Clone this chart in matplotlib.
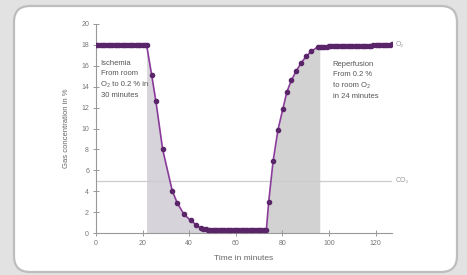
import matplotlib
matplotlib.use("Agg")
import matplotlib.pyplot as plt
from matplotlib.patches import FancyBboxPatch
import numpy as np

plt.rcParams['font.family'] = ['Liberation Sans', 'DejaVu Sans']

# O2 concentration over time (minutes, %)
time_min = [0, 1, 2, 3, 4, 5, 6, 7, 8, 9, 10, 11, 12, 13, 14, 15, 16, 17, 18, 19, 20, 21, 21.7,
            23.9, 25.7, 28.6, 32.7, 34.8, 37.7, 40.6, 43.1,
            45, 46, 47, 48, 49, 50, 51, 52, 53, 54, 55, 56, 57, 58, 59, 60, 61, 62, 63, 64,
            65, 66, 67, 68, 69, 70, 71, 72, 73.1,
            74.1, 76.0, 78.1, 80.2, 81.9, 83.8, 85.9, 88.1, 90.2, 92.4, 95.2,
            96, 97, 98, 99, 100, 101, 102, 103, 104, 105, 106, 107, 108, 109, 110, 111,
            112, 113, 114, 115, 116, 117, 118, 119, 120, 121, 122, 123, 124, 125, 126, 127]
o2_pct = [18.0, 18.0, 18.0, 18.0, 18.0, 18.0, 18.0, 18.0, 18.0, 18.0, 18.0, 18.0, 18.0, 18.0,
          18.0, 18.0, 18.0, 18.0, 18.0, 18.0, 18.0, 18.0, 18.0,
          15.1, 12.6, 8.0, 4.05, 2.9, 1.8, 1.2, 0.77,
          0.45, 0.4, 0.35, 0.3, 0.3, 0.3, 0.3, 0.3, 0.3, 0.3, 0.3, 0.3, 0.3, 0.3, 0.3, 0.3,
          0.3, 0.3, 0.3, 0.3, 0.3, 0.3, 0.3, 0.3, 0.3, 0.3, 0.3, 0.3, 0.3,
          3.0, 6.9, 9.9, 11.9, 13.5, 14.6, 15.5, 16.3, 16.9, 17.4, 17.8,
          17.8, 17.8, 17.8, 17.8, 17.85, 17.85, 17.85, 17.85, 17.85, 17.85, 17.85, 17.85,
          17.9, 17.9, 17.9, 17.9, 17.9, 17.9, 17.9, 17.9, 17.9, 17.9, 17.9, 17.95, 17.95,
          17.95, 17.95, 17.95, 17.95, 18.0, 18.0, 18.05]
co2_level = 5
ischemia_span = (21.7, 52)
reperfusion_span = (73.1, 96)
x_ticks = [0, 20, 40, 60, 80, 100, 120]
y_ticks = [0, 2, 4, 6, 8, 10, 12, 14, 16, 18, 20]

fig = plt.figure(figsize=(4.67, 2.75), dpi=100)
fig.patch.set_facecolor('#e2e2e2')

# rounded white panel
bg = fig.add_axes([0, 0, 1, 1], zorder=-1)
bg.set_xlim(0, 467)
bg.set_ylim(0, 275)
bg.axis('off')
bg.add_patch(FancyBboxPatch((14, 3), 443, 266, boxstyle="round,pad=0,rounding_size=16",
                            facecolor='white', edgecolor='#bdbdbd', linewidth=1.6))

ax = fig.add_axes([96 / 467, 42 / 275, 296 / 467, 209 / 275])
ax.set_facecolor('none')

t = np.array(time_min)
y = np.array(o2_pct)
m1 = (t >= ischemia_span[0]) & (t <= ischemia_span[1])
m2 = (t >= reperfusion_span[0]) & (t <= reperfusion_span[1])
ax.fill_between(t, 0, y, where=m1, color='#d6d4da', linewidth=0, zorder=1)
ax.fill_between(t, 0, y, where=m2, color='#d2d2d2', linewidth=0, zorder=1)

ax.axhline(co2_level, color='#cccccc', linewidth=0.9, zorder=2)
ax.plot(t, y, color='#8a3a9a', linewidth=1.2, marker='o', markersize=3,
        markerfacecolor='#5a2468', markeredgecolor='#5a2468', zorder=3)

ax.set_xlim(0, 127)
ax.set_ylim(0, 20)
ax.set_xticks(x_ticks)
ax.set_yticks(y_ticks)
ax.tick_params(direction='inout', length=4, width=0.7, colors='#999999',
               labelsize=5, labelcolor='#777777', pad=3)
for s in ['top', 'right']:
    ax.spines[s].set_visible(False)
for s in ['left', 'bottom']:
    ax.spines[s].set_color('#999999')
    ax.spines[s].set_linewidth(0.8)

ax.set_xlabel('Time in minutes', fontsize=6, color='#666666', labelpad=6)
ax.set_ylabel('Gas concentration in %', fontsize=5.5, color='#666666', labelpad=8)

ax.text(2, 16.6, 'Ischemia\nFrom room\nO\u2082 to 0.2 % in\n30 minutes', fontsize=5.5,
        color='#555555', va='top', ha='left', linespacing=1.75)
ax.text(101.5, 16.5, 'Reperfusion\nFrom 0.2 %\nto room O\u2082\nin 24 minutes', fontsize=5.5,
        color='#555555', va='top', ha='left', linespacing=1.75)
ax.text(128.5, 18.0, 'O\u2082', fontsize=5, color='#999999', va='center', ha='left',
        clip_on=False)
ax.text(128.5, co2_level, 'CO\u2082', fontsize=5, color='#999999', va='center', ha='left',
        clip_on=False)

fig.savefig('out.png', dpi=100, facecolor=fig.get_facecolor())
